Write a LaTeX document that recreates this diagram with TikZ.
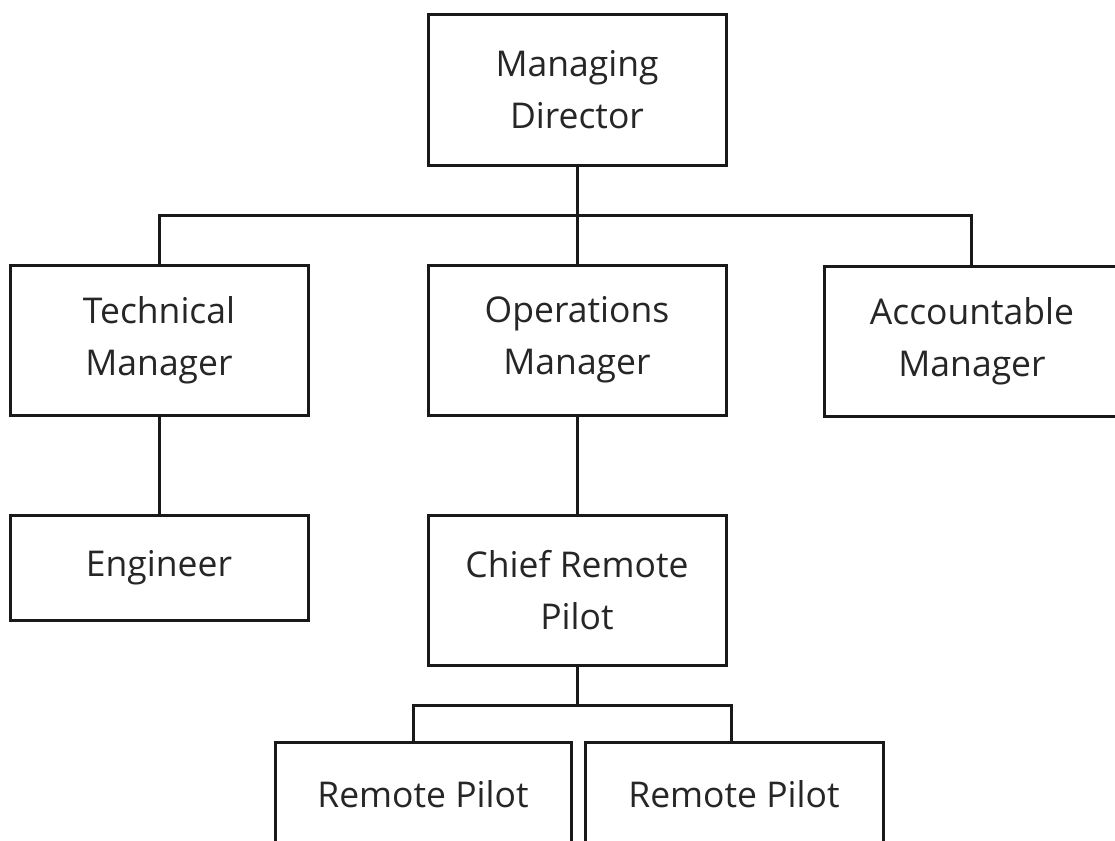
\documentclass[tikz,border=0pt]{standalone}
\usepackage{fontspec}
\setmainfont{Open Sans}
\begin{document}
\begin{tikzpicture}[x=1pt,y=-1pt,
  box/.style={draw=black!90, line width=3pt, fill=white, inner sep=0pt, align=center,
    text=black!85, font=\fontsize{35.5}{52}\selectfont, minimum width=298pt, minimum height=150pt},
  shortbox/.style={box, minimum height=105pt},
  link/.style={draw=black!90, line width=3pt}]
\useasboundingbox (0,0) rectangle (1115,840);
\clip (0,0) rectangle (1115,840);
\node[box] (md) at (577,90) {Managing\\Director};
\node[box] (tm) at (159,340) {Technical\\Manager};
\node[box] (om) at (577,340) {Operations\\Manager};
\node[box, minimum width=296pt] (am) at (972,341) {Accountable\\Manager};
\node[shortbox] (en) at (159,567.5) {Engineer};
\node[box] (crp) at (577,590) {Chief Remote\\Pilot};
\node[shortbox, minimum width=296pt] (rp1) at (423,794.5) {Remote Pilot};
\node[shortbox, minimum width=298pt] (rp2) at (734,794.5) {Remote Pilot};
\coordinate (bus1) at (577,215);
\coordinate (bl) at (159,215);
\coordinate (br) at (971,215);
\coordinate (bus2) at (577,705);
\coordinate (cl) at (413,705);
\coordinate (cr) at (731,705);
\draw[link] (md.south) -- (bus1);
\draw[link] (bl |- tm.north) -- (bl) -- (br) -- (br |- am.north);
\draw[link] (bus1) -- (om.north);
\draw[link] (tm.south) -- (en.north);
\draw[link] (om.south) -- (crp.north);
\draw[link] (crp.south) -- (bus2);
\draw[link] (cl |- rp1.north) -- (cl) -- (cr) -- (cr |- rp2.north);
\end{tikzpicture}
\end{document}
